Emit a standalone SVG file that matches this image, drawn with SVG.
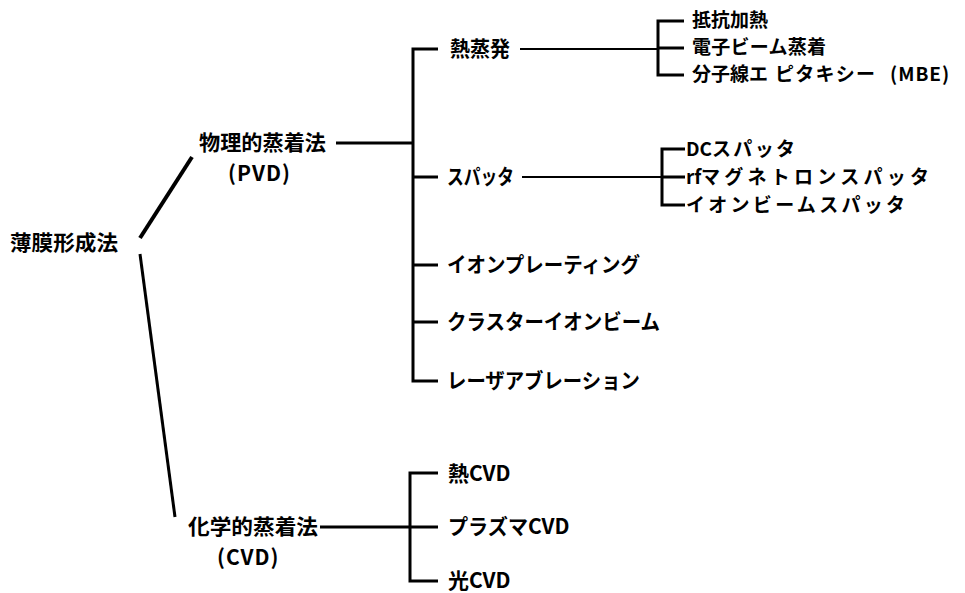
<svg xmlns="http://www.w3.org/2000/svg" width="965" height="593" viewBox="0 0 965 593">
<style>
text{font-family:"Noto Sans CJK JP","Noto Sans",sans-serif;font-weight:700;font-size:21px;fill:#000}
.s{font-size:19px}
.l{letter-spacing:1px}
.c path,.c line{stroke:#000;stroke-width:3;fill:none}
.c .thin{stroke-width:2}
</style>
<rect width="965" height="593" fill="#fff"/>
<g class="c" id="connectors">
<line x1="140" y1="238" x2="192" y2="157" style="stroke-width:4"/>
<line x1="140" y1="254" x2="175" y2="517"/>
<line x1="336" y1="143" x2="413" y2="143"/>
<path d="M438,49 H413 V381 H438"/>
<path d="M413,177 H438 M413,265 H438 M413,322 H438"/>
<line class="thin" x1="520" y1="49" x2="658" y2="49"/>
<path d="M684,21 H658 V75 H684 M658,48 H684"/>
<line class="thin" x1="522" y1="177" x2="662" y2="177"/>
<path d="M685,149 H662 V205 H685 M662,177 H685"/>
<line x1="320" y1="527" x2="410" y2="527"/>
<path d="M438,473 H410 V581 H438 M410,527 H438"/>
</g>
<g id="n-root"><text x="10" y="250" textLength="108" lengthAdjust="spacingAndGlyphs">薄膜形成法</text></g>
<g id="n-pvd"><text x="199" y="150" textLength="127" lengthAdjust="spacingAndGlyphs">物理的蒸着法</text><text class="l" x="228" y="181">(PVD)</text></g>
<g id="n-cvd"><text x="188" y="534" textLength="130" lengthAdjust="spacingAndGlyphs">化学的蒸着法</text><text class="l" x="217" y="565">(CVD)</text></g>
<g id="n-netsu"><text x="450" y="56" textLength="60" lengthAdjust="spacingAndGlyphs">熱蒸発</text></g>
<g id="n-teikou"><text class="s" x="692" y="27" textLength="76" lengthAdjust="spacing">抵抗加熱</text></g>
<g id="n-denshi"><text class="s" x="692" y="54" textLength="134" lengthAdjust="spacing">電子ビーム蒸着</text></g>
<g id="n-mbe"><text class="s" x="692" y="81" textLength="76" lengthAdjust="spacing">分子線エ</text><text class="s" x="775" y="81" textLength="100" lengthAdjust="spacing">ピタキシー</text><text class="s l" x="890" y="81">(MBE)</text></g>
<g id="n-sputter"><text x="447" y="184" textLength="67" lengthAdjust="spacingAndGlyphs">スパッタ</text></g>
<g id="n-dc"><text class="s" x="686" y="156">DC</text><text class="s" x="712" y="156" textLength="83" lengthAdjust="spacing">スパッタ</text></g>
<g id="n-rf"><text class="s" x="686" y="184">rf</text><text class="s" x="701" y="184" textLength="228" lengthAdjust="spacing">マグネトロンスパッタ</text></g>
<g id="n-ionbeam"><text class="s" x="686" y="212" textLength="219" lengthAdjust="spacing">イオンビームスパッタ</text></g>
<g id="n-ionplating"><text x="447" y="272" textLength="193" lengthAdjust="spacingAndGlyphs">イオンプレーティング</text></g>
<g id="n-cluster"><text x="447" y="329" textLength="213" lengthAdjust="spacingAndGlyphs">クラスターイオンビーム</text></g>
<g id="n-laser"><text x="447" y="388" textLength="193" lengthAdjust="spacingAndGlyphs">レーザアブレーション</text></g>
<g id="n-netsucvd"><text x="448" y="481">熱</text><text x="469" y="481">CVD</text></g>
<g id="n-plasma"><text x="448" y="534" textLength="80" lengthAdjust="spacingAndGlyphs">プラズマ</text><text x="528" y="534">CVD</text></g>
<g id="n-hikari"><text x="448" y="588">光</text><text x="469" y="588">CVD</text></g>
</svg>
